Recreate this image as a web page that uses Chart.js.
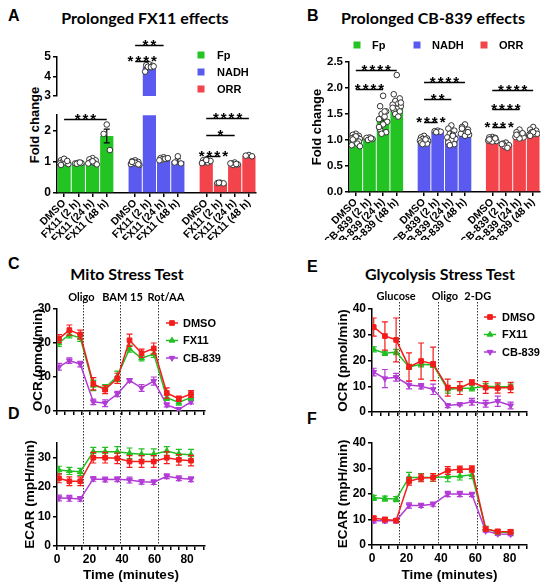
<!DOCTYPE html>
<html>
<head>
<meta charset="utf-8">
<script src="https://cdn.jsdelivr.net/npm/chart.js@4.4.1/dist/chart.umd.min.js"></script>
<style>
body { margin: 0; background: #fff; }
#fig { position: relative; width: 550px; height: 588px; overflow: hidden; font-family: "Liberation Sans", Arial, sans-serif; color: #000; }
#fig canvas { position: absolute; }
.lt { position: absolute; font-weight: bold; font-size: 16px; line-height: 16px; }
.ttl { position: absolute; width: 300px; text-align: center; font-family: Lato, sans-serif; font-weight: bold; font-size: 16px; line-height: 18px; white-space: nowrap; }
.ytl { position: absolute; width: 120px; text-align: center; font-weight: bold; font-size: 13px; line-height: 16px; transform: rotate(-90deg); white-space: nowrap; }
</style>
</head>
<body>
<div id="fig">
  <div class="lt" style="left:8px;top:8px">A</div>
  <div class="lt" style="left:307px;top:8px">B</div>
  <div class="lt" style="left:8px;top:256px">C</div>
  <div class="lt" style="left:8px;top:406px">D</div>
  <div class="lt" style="left:307px;top:259px">E</div>
  <div class="lt" style="left:307px;top:411px">F</div>
  <div class="ttl" style="left:-5px;top:9px">Prolonged FX11 effects</div>
  <div class="ttl" style="left:283px;top:9px">Prolonged CB-839 effects</div>
  <div class="ttl" style="left:-23px;top:265px">Mito Stress Test</div>
  <div class="ttl" style="left:290px;top:265px">Glycolysis Stress Test</div>
  <div class="ytl" style="left:-25px;top:117px">Fold change</div>
</div>
<script>
// ---- panel A / B : bar data ----
var fxCats = ['DMSO', 'FX11 (2 h)', 'FX11 (24 h)', 'FX11 (48 h)'];
var cbCats = ['DMSO', 'CB-839 (2 h)', 'CB-839 (24 h)', 'CB-839 (48 h)'];
var groups = ['Fp', 'NADH', 'ORR'];

var fxFp = [1.00, 0.96, 1.01, 1.83];     var fxFpErr = [0.03, 0.01, 0.03, 0.22];
var fxNadh = [0.97, 4.50, 1.10, 1.03];   var fxNadhErr = [0.02, 0.05, 0.02, 0.07];
var fxOrr = [1.02, 0.32, 0.93, 1.19];    var fxOrrErr = [0.02, 0.01, 0.02, 0.02];

var fxFpDots = [[1.08, 1.05, 1.02, 1.0, 0.98, 0.95, 0.93, 1.1, 0.9, 1.03], [0.97, 0.95, 0.96, 0.94, 0.98], [1.12, 1.08, 1.05, 1.0, 0.97, 0.95, 0.92, 1.02], [2.2, 1.9, 1.38]];
var fxNadhDots = [[1.05, 1.02, 1.0, 0.98, 0.95, 0.93, 0.9, 0.97, 1.0, 0.92], [4.62, 4.58, 4.55, 4.5, 4.48, 4.25, 4.52], [1.15, 1.12, 1.1, 1.08, 1.1, 1.05, 1.12], [1.18, 0.98, 0.95]];
var fxOrrDots = [[1.08, 1.05, 1.02, 1.0, 0.98, 0.96, 1.03, 1.06], [0.33, 0.32, 0.31, 0.33], [0.98, 0.95, 0.92, 0.9, 0.93, 0.95], [1.22, 1.2, 1.18]];

var cbFp = [1.00, 1.04, 1.40, 1.67];     var cbFpErr = [0.02, 0.02, 0.07, 0.05];
var cbNadh = [0.99, 1.16, 1.09, 1.15];   var cbNadhErr = [0.02, 0.01, 0.03, 0.02];
var cbOrr = [1.00, 0.91, 1.07, 1.11];    var cbOrrErr = [0.01, 0.02, 0.01, 0.01];

var cbFpDots = [[1.12, 1.1, 1.08, 1.06, 1.05, 1.03, 1.02, 1.0, 0.99, 0.97, 0.95, 0.93, 0.9, 0.88, 1.07, 1.01], [1.05, 1.04, 1.02, 1.0, 1.03], [1.85, 1.65, 1.55, 1.5, 1.45, 1.4, 1.35, 1.3, 1.2, 1.15, 1.12, 1.55, 1.25], [2.25, 1.88, 1.8, 1.75, 1.7, 1.68, 1.65, 1.6, 1.58, 1.55, 1.5, 1.45, 1.62, 1.72]];
var cbNadhDots = [[1.08, 1.05, 1.03, 1.02, 1.0, 0.99, 0.98, 0.96, 0.95, 0.93, 0.92, 1.01], [1.18, 1.17, 1.16, 1.15], [1.28, 1.22, 1.18, 1.12, 1.1, 1.05, 1.02, 1.0, 0.95, 0.92, 0.9, 1.08], [1.3, 1.25, 1.2, 1.18, 1.15, 1.12, 1.1, 1.08, 1.22, 1.15]];
var cbOrrDots = [[1.06, 1.05, 1.04, 1.02, 1.0, 0.99, 0.98, 0.97, 1.01, 1.03], [0.95, 0.93, 0.9, 0.88, 0.85, 0.92], [1.2, 1.15, 1.12, 1.1, 1.08, 1.06, 1.05, 1.03, 1.1, 1.13], [1.25, 1.2, 1.18, 1.15, 1.12, 1.1, 1.12, 1.15, 1.08]];

// significance: [group, bar, bar, height, stars]
var fxSig = [[0, 0, 3, 2.37, '***'], [1, 0, 1, 4.77, '****'], [1, 0, 2, 5.59, '**'], [2, 0, 1, 1.2, '****'], [2, 0, 2, 1.85, '*'], [2, 0, 3, 2.4, '****']];
var cbSig = [[0, 0, 3, 2.35, '****'], [0, 0, 2, 1.98, '****'], [1, 0, 1, 1.35, '****'], [1, 0, 2, 1.79, '**'], [1, 0, 3, 2.12, '****'], [2, 0, 1, 1.25, '****'], [2, 0, 2, 1.6, '****'], [2, 0, 3, 1.96, '****']];

// ---- panels C-F : Seahorse traces ----
var mitoMinutes = [1.2, 7.6, 14.3, 22.3, 29.6, 37.1, 44.6, 52.0, 59.5, 67.5, 74.9, 82.4];
var mitoInject = [16, 39, 62];
var mitoNames = ['Oligo', 'BAM 15', 'Rot/AA'];
var glycoMinutes = [1.0, 7.5, 14.0, 21.5, 28.5, 35.5, 44.0, 51.0, 58.0, 66.0, 73.0, 80.5];
var glycoInject = [15.5, 38.5, 61];
var glycoNames = ['Glucose', 'Oligo', '2-DG'];
var treatments = ['DMSO', 'FX11', 'CB-839'];

var ocrMitoDmso = [21.3, 23.8, 22.5, 8.0, 6.3, 9.6, 20.8, 17.0, 18.4, 5.3, 3.6, 5.0];
var ocrMitoDmsoErr = [1.2, 1.5, 1.3, 1.8, 1.2, 1.5, 1.8, 1.2, 1.6, 1.5, 0.8, 1.0];
var ocrMitoFx = [20.0, 22.5, 21.5, 7.5, 6.8, 10.2, 18.3, 15.5, 16.8, 3.9, 2.5, 4.0];
var ocrMitoFxErr = [1.0, 1.0, 1.0, 1.5, 1.0, 1.5, 1.0, 0.8, 1.0, 0.8, 0.8, 0.8];
var ocrMitoCb = [13.0, 14.8, 13.8, 2.7, 2.3, 5.0, 9.0, 6.8, 8.8, 1.8, 0.5, 2.7];
var ocrMitoCbErr = [1.0, 0.8, 0.8, 0.8, 1.0, 0.8, 0.5, 1.0, 1.2, 0.6, 0.5, 0.6];

var ecarMitoDmso = [23.0, 22.0, 22.0, 30.0, 30.0, 29.8, 28.7, 28.7, 28.7, 30.0, 29.3, 29.0];
var ecarMitoDmsoErr = [1.5, 1.5, 1.5, 1.8, 1.8, 1.8, 2.0, 2.0, 2.0, 2.0, 1.8, 1.8];
var ecarMitoFx = [25.8, 25.5, 25.2, 32.0, 32.0, 32.0, 31.5, 31.2, 31.2, 32.3, 31.3, 31.0];
var ecarMitoFxErr = [1.3, 1.2, 1.2, 1.5, 1.5, 1.8, 1.8, 1.8, 1.8, 1.5, 1.5, 1.8];
var ecarMitoCb = [16.3, 16.2, 16.0, 22.8, 22.6, 22.7, 22.4, 21.8, 21.7, 23.7, 23.0, 22.7];
var ecarMitoCbErr = [1.0, 1.0, 0.8, 0.8, 0.8, 0.8, 1.0, 0.8, 0.8, 0.8, 0.8, 0.8];

var ocrGlycoDmso = [33.0, 29.5, 28.0, 17.5, 19.8, 18.7, 9.5, 9.3, 11.5, 9.5, 9.3, 9.5];
var ocrGlycoDmsoErr = [3.5, 5.5, 8.5, 5.5, 7.0, 6.5, 3.3, 2.5, 1.0, 2.3, 2.0, 2.0];
var ocrGlycoFx = [24.3, 22.8, 23.3, 17.5, 18.5, 18.3, 8.8, 9.2, 9.2, 10.0, 9.8, 9.8];
var ocrGlycoFxErr = [1.0, 0.8, 1.0, 1.0, 1.0, 1.0, 1.5, 1.0, 1.0, 1.0, 1.0, 1.0];
var ocrGlycoCb = [15.5, 13.0, 13.5, 10.5, 10.0, 8.8, 2.5, 3.0, 4.0, 3.2, 4.2, 2.5];
var ocrGlycoCbErr = [1.5, 3.5, 1.5, 1.5, 1.0, 2.0, 0.8, 0.5, 1.3, 1.3, 2.0, 1.3];

var ecarGlycoDmso = [10.5, 10.0, 9.6, 25.0, 26.3, 26.5, 29.2, 29.7, 29.8, 6.3, 5.3, 5.2];
var ecarGlycoDmsoErr = [0.8, 0.8, 0.8, 1.5, 1.5, 1.5, 1.5, 1.2, 1.2, 0.8, 0.8, 0.8];
var ecarGlycoFx = [18.5, 18.2, 18.0, 26.5, 26.5, 26.5, 26.8, 27.0, 27.5, 6.5, 5.0, 5.0];
var ecarGlycoFxErr = [1.0, 1.0, 1.0, 2.0, 1.5, 1.5, 2.0, 1.5, 1.5, 0.8, 0.6, 0.6];
var ecarGlycoCb = [9.5, 9.5, 9.5, 15.5, 15.5, 16.0, 20.0, 20.0, 19.8, 5.5, 4.3, 4.2];
var ecarGlycoCbErr = [0.8, 0.8, 0.8, 1.0, 0.8, 0.8, 1.0, 1.0, 0.8, 0.5, 0.5, 0.5];

// ---- styles ----
var barColors = ['#22c322', '#5a5af0', '#f3434b'];
var lineColors = ['#f41c1c', '#22bf22', '#b23cd6'];
var marks = [['rect', 0], ['triangle', 0], ['triangle', 180]];
var swarm = [0, -0.22, 0.22, -0.11, 0.11, -0.3, 0.3];
var ARIAL = '"Liberation Sans", Arial, sans-serif';

Chart.defaults.font.family = ARIAL;
Chart.defaults.font.weight = 'bold';
Chart.defaults.color = '#000';
Chart.defaults.animation = false;
Chart.defaults.plugins.legend.display = false;
Chart.defaults.plugins.tooltip.enabled = false;

// error bars, drawn right after their dataset
var errPlugin = {
	id: 'err',
	afterDatasetDraw: function(chart, args) {
		var ds = chart.data.datasets[args.index];
		if (!ds.errors) return;
		var meta = args.meta, ys = chart.scales[meta.yAxisID], ctx = chart.ctx, a = chart.chartArea;
		ctx.save();
		ctx.beginPath(); ctx.rect(a.left, a.top - 2, a.right - a.left, a.bottom - a.top + 2); ctx.clip();
		ctx.strokeStyle = ds.errorColor || ds.borderColor;
		ctx.lineWidth = 1.2;
		meta.data.forEach(function(el, i) {
			var v = ds.data[i], e = ds.errors[i];
			if (v !== null && typeof v === 'object') v = v.y;
			if (v == null || e == null) return;
			var yt = ys.getPixelForValue(v + e), yb = ys.getPixelForValue(v - e), c = 3;
			ctx.beginPath();
			ctx.moveTo(el.x, yt); ctx.lineTo(el.x, yb);
			ctx.moveTo(el.x - c, yt); ctx.lineTo(el.x + c, yt);
			ctx.moveTo(el.x - c, yb); ctx.lineTo(el.x + c, yb);
			ctx.stroke();
		});
		ctx.restore();
	}
};

// significance brackets
var sigPlugin = {
	id: 'sig',
	afterDraw: function(chart, args, o) {
		if (!o.items) return;
		var xs = chart.scales.x, ys = chart.scales.y, ctx = chart.ctx;
		ctx.save();
		ctx.strokeStyle = '#000'; ctx.fillStyle = '#000'; ctx.lineWidth = 1.5;
		ctx.font = 'bold 15px ' + ARIAL; ctx.textAlign = 'center'; ctx.textBaseline = 'alphabetic';
		if ('letterSpacing' in ctx) ctx.letterSpacing = '2px';
		o.items.forEach(function(s) {
			var x1 = xs.getPixelForValue(s[0] * 5 + s[1]), x2 = xs.getPixelForValue(s[0] * 5 + s[2]);
			var py = Math.round(ys.getPixelForValue(s[3])) + 0.5;
			ctx.beginPath(); ctx.moveTo(x1, py); ctx.lineTo(x2, py); ctx.stroke();
			ctx.fillText(s[4], (x1 + x2) / 2 + 1, py + 4);
		});
		ctx.restore();
	}
};

// legends
var keyPlugin = {
	id: 'keys',
	afterDraw: function(chart, args, o) {
		if (!o.items) return;
		var ctx = chart.ctx;
		ctx.save();
		ctx.font = 'bold 11px ' + ARIAL; ctx.textBaseline = 'middle'; ctx.textAlign = 'left';
		o.items.forEach(function(k) {
			ctx.fillStyle = k.color; ctx.strokeStyle = k.color;
			if (k.style === 'box') {
				ctx.fillRect(k.x - 3.5, k.y - 3.5, 7, 7);
			} else {
				ctx.lineWidth = 1.5;
				ctx.beginPath(); ctx.moveTo(k.x - 6, k.y); ctx.lineTo(k.x + 6, k.y); ctx.stroke();
				ctx.lineWidth = 1;
				Chart.helpers.drawPoint(ctx, {pointStyle: k.style, radius: 3.3, rotation: k.rot, borderWidth: 1}, k.x, k.y);
			}
			ctx.fillStyle = '#000';
			ctx.fillText(k.text, k.tx, k.y + 0.5);
		});
		ctx.restore();
	}
};

// injection lines and names
var injPlugin = {
	id: 'inj',
	beforeDatasetsDraw: function(chart, args, o) {
		if (!o.at) return;
		var xs = chart.scales.x, ctx = chart.ctx, a = chart.chartArea;
		ctx.save();
		ctx.strokeStyle = '#333'; ctx.lineWidth = 1; ctx.setLineDash([1.5, 1.5]);
		o.at.forEach(function(v) {
			var px = Math.round(xs.getPixelForValue(v)) + 0.5;
			ctx.beginPath(); ctx.moveTo(px, o.y0); ctx.lineTo(px, o.y1 == null ? a.bottom : o.y1); ctx.stroke();
		});
		ctx.setLineDash([]);
		if (o.names) {
			ctx.font = 'bold 11px Lato, sans-serif'; ctx.fillStyle = '#000';
			ctx.textAlign = 'center'; ctx.textBaseline = 'middle';
			o.names.forEach(function(n, i) { ctx.fillText(n, xs.getPixelForValue(o.nameAt[i]), o.nameY); });
		}
		ctx.restore();
	}
};

Chart.register(errPlugin, sigPlugin, keyPlugin, injPlugin);

function canvasAt(l, t, w, h) {
	var c = document.createElement('canvas');
	c.width = w; c.height = h;
	c.style.left = l + 'px'; c.style.top = t + 'px';
	c.style.width = w + 'px'; c.style.height = h + 'px';
	document.getElementById('fig').appendChild(c);
	return c;
}

// cv = [left, top, w, h] of canvas, plot = [left, top, right, bottom] of chart area
function frame(cv, plot) {
	return {
		cv: cv,
		pad: {left: 0, top: plot[1] - cv[1], right: cv[0] + cv[2] - plot[2], bottom: 0},
		yw: plot[0] - cv[0],
		xh: cv[1] + cv[3] - plot[3]
	};
}

function yAxis(fr, min, max, step, size, title, fmt, bounds) {
	return {
		type: 'linear', min: min, max: max,
		afterFit: function(s) { s.width = fr.yw; },
		border: {color: '#000', width: 1.5},
		grid: {drawOnChartArea: false, tickLength: 4, color: '#000', lineWidth: 1.5},
		ticks: {stepSize: step, includeBounds: !!bounds, padding: 2, font: {size: size, weight: 'bold'}, callback: fmt || function(v) { return v; }},
		title: title ? {display: true, text: title, font: {size: title.length > 12 ? 13.5 : 13, weight: 'bold'}} : {display: false}
	};
}

function wholeOnly(v) { return v % 1 === 0 ? v : ''; }

function slots(cats) { return cats.concat([''], cats, [''], cats); }

function barSets(vals, errs, dots, keep) {
	var sets = [];
	groups.forEach(function(g, gi) {
		var data = [], err = [];
		for (var i = 0; i < 14; i++) { data.push(null); err.push(null); }
		vals[gi].forEach(function(v, i) { data[gi * 5 + i] = v; err[gi * 5 + i] = errs[gi][i]; });
		sets.push({type: 'bar', label: g, data: data, errors: err, errorColor: '#000', backgroundColor: barColors[gi],
			grouped: false, barPercentage: 0.93, categoryPercentage: 1, order: 2});
	});
	var pts = [];
	dots.forEach(function(grp, gi) {
		grp.forEach(function(list, bi) {
			list.forEach(function(v, k) {
				if (keep(v)) pts.push({x: gi * 5 + bi + swarm[k % swarm.length], y: v});
			});
		});
	});
	sets.unshift({type: 'scatter', data: pts, xAxisID: 'xj', pointRadius: 2.8, pointBackgroundColor: '#fff',
		pointBorderColor: '#333', pointBorderWidth: 1, order: 1});
	return sets;
}

function barChart(fr, labels, sets, y, showX, plugins) {
	var cv = fr.cv, pad = Object.assign({}, fr.pad);
	if (!showX) pad.bottom = fr.xh;
	new Chart(canvasAt(cv[0], cv[1], cv[2], cv[3]), {
		type: 'bar',
		data: {labels: labels, datasets: sets},
		options: {
			responsive: false,
			layout: {padding: pad},
			scales: {
				x: {
					type: 'category', offset: true, display: showX,
					afterFit: function(s) { s.height = fr.xh; },
					border: {color: '#000', width: 1.5},
					grid: {drawOnChartArea: false, offset: false, tickLength: 4, lineWidth: 1.5,
						tickColor: function(c) { return c.tick && c.tick.label ? '#000' : 'rgba(0,0,0,0)'; }},
					ticks: {autoSkip: false, minRotation: 45, maxRotation: 45, padding: 0, font: {size: 10.5, weight: 'bold'}}
				},
				xj: {type: 'linear', display: false, offset: false, bounds: 'data', grace: 0, min: -0.5, max: 13.5,
					grid: {offset: false}},
				y: y
			},
			plugins: plugins
		}
	});
}

// ---- A (broken axis: two stacked charts) ----
var fxVals = [fxFp, fxNadh, fxOrr], fxErrs = [fxFpErr, fxNadhErr, fxOrrErr], fxDots = [fxFpDots, fxNadhDots, fxOrrDots];
var aTop = frame([23, 30, 250, 76], [57, 57, 256, 101]);
var aLow = frame([23, 106, 250, 134], [57, 112, 256, 193]);
barChart(aTop, slots(fxCats), barSets(fxVals, fxErrs, fxDots, function(v) { return v >= 3; }),
	yAxis(aTop, 3, 5, 0.5, 12, null, wholeOnly), false, {
		sig: {items: fxSig.filter(function(s) { return s[3] > 3; })},
		keys: {items: groups.map(function(g, i) { return {text: g, color: barColors[i], style: 'box', x: 178, y: 25 + i * 17, tx: 194}; })}
	});
barChart(aLow, slots(fxCats), barSets(fxVals, fxErrs, fxDots, function(v) { return v <= 2.5; }),
	yAxis(aLow, 0, 2.5, 0.5, 12, null, wholeOnly, true), true, {
		sig: {items: fxSig.filter(function(s) { return s[3] < 3; })}
	});

// ---- B ----
var bFr = frame([306, 30, 244, 210], [349, 62, 540, 192]);
var bKeyX = [51, 111, 178];
barChart(bFr, slots(cbCats), barSets([cbFp, cbNadh, cbOrr], [cbFpErr, cbNadhErr, cbOrrErr], [cbFpDots, cbNadhDots, cbOrrDots], function() { return true; }),
	yAxis(bFr, 0, 2.5, 0.5, 11.5, 'Fold change', function(v) { return v.toFixed(1); }, true), true, {
		sig: {items: cbSig},
		keys: {items: groups.map(function(g, i) { return {text: g, color: barColors[i], style: 'box', x: bKeyX[i], y: 15, tx: bKeyX[i] + 15}; })}
	});

// ---- C-F ----
function lineSets(mins, vals, errs) {
	return treatments.map(function(t, i) {
		return {
			label: t, data: mins.map(function(m, j) { return {x: m, y: vals[i][j]}; }), errors: errs[i],
			borderColor: lineColors[i], backgroundColor: lineColors[i], errorColor: lineColors[i],
			borderWidth: 1.5, pointStyle: marks[i][0], pointRotation: marks[i][1], pointRadius: 3.3,
			pointBorderWidth: 1, tension: 0
		};
	});
}

function traceChart(fr, sets, xmax, y, showX, plugins) {
	var cv = fr.cv;
	new Chart(canvasAt(cv[0], cv[1], cv[2], cv[3]), {
		type: 'line',
		data: {datasets: sets},
		options: {
			responsive: false,
			layout: {padding: fr.pad},
			scales: {
				x: {
					type: 'linear', min: 0, max: xmax,
					afterFit: function(s) { s.height = fr.xh; },
					border: {color: '#000', width: 1.5},
					grid: {drawOnChartArea: false, tickLength: 4, color: '#000', lineWidth: 1.5},
					ticks: {stepSize: 5, autoSkip: false, maxRotation: 0, includeBounds: false, padding: 2,
						color: showX ? '#000' : 'rgba(0,0,0,0)', font: {size: 12, weight: 'bold'},
						callback: function(v) { return v % 20 === 0 ? v : ''; }},
					title: {display: showX, text: 'Time (minutes)', font: {size: 13.5, weight: 'bold'}, padding: {top: 0, bottom: 2}}
				},
				y: y
			},
			plugins: plugins
		}
	});
}

function traceKeys(x, tx, y0, dy) {
	return treatments.map(function(t, i) {
		return {text: t, color: lineColors[i], style: marks[i][0], rot: marks[i][1], x: x, y: y0 + i * dy, tx: tx};
	});
}

var cFr = frame([26, 285, 244, 140], [57, 309, 205, 411]);
traceChart(cFr, lineSets(mitoMinutes, [ocrMitoDmso, ocrMitoFx, ocrMitoCb], [ocrMitoDmsoErr, ocrMitoFxErr, ocrMitoCbErr]), 91,
	yAxis(cFr, 0, 30, 10, 12, 'OCR (pmol/min)'), false, {
		inj: {at: mitoInject, y0: 17, y1: 140, names: mitoNames, nameAt: [15, 40.3, 67], nameY: 12},
		keys: {items: traceKeys(146, 157, 38, 17.5)}
	});

var dFr = frame([18, 425, 252, 160], [57, 443, 205, 546]);
traceChart(dFr, lineSets(mitoMinutes, [ecarMitoDmso, ecarMitoFx, ecarMitoCb], [ecarMitoDmsoErr, ecarMitoFxErr, ecarMitoCbErr]), 91,
	yAxis(dFr, 0, 35, 10, 12, 'ECAR (mpH/min)'), true, {
		inj: {at: mitoInject, y0: 0, y1: null}
	});

var eFr = frame([331, 285, 219, 140], [372, 309, 527, 412]);
traceChart(eFr, lineSets(glycoMinutes, [ocrGlycoDmso, ocrGlycoFx, ocrGlycoCb], [ocrGlycoDmsoErr, ocrGlycoFxErr, ocrGlycoCbErr]), 90,
	yAxis(eFr, 0, 40, 10, 12, 'OCR (pmol/min)'), false, {
		inj: {at: glycoInject, y0: 17, y1: 140, names: glycoNames, nameAt: [14, 42.3, 61.4], nameY: 11},
		keys: {items: traceKeys(159, 171, 32, 17.5)}
	});

var fFr = frame([331, 425, 219, 160], [372, 443, 527, 545]);
traceChart(fFr, lineSets(glycoMinutes, [ecarGlycoDmso, ecarGlycoFx, ecarGlycoCb], [ecarGlycoDmsoErr, ecarGlycoFxErr, ecarGlycoCbErr]), 90,
	yAxis(fFr, 0, 40, 10, 12, 'ECAR (mpH/min)'), true, {
		inj: {at: glycoInject, y0: 0, y1: null}
	});
</script>
</body>
</html>
